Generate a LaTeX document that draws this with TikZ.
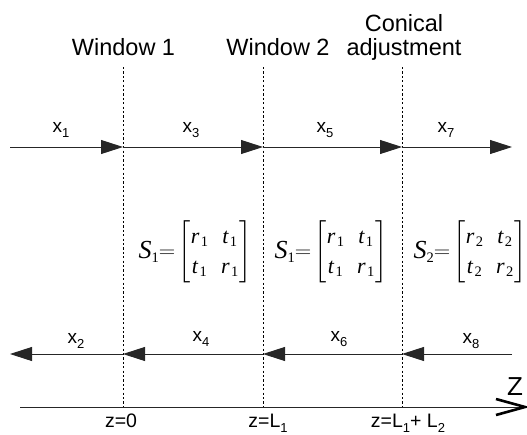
\documentclass[tikz,border=0pt]{standalone}
\usepackage{amsmath}
\usepackage{graphicx}
\usepackage{fontspec}
\setmainfont{Liberation Sans}
\newfontfamily\mserif{Liberation Serif}
\usetikzlibrary{arrows.meta}
% lowered subscript in the label font
\newcommand\lowsub[1]{\raisebox{-5pt}{\fontsize{13}{13}\selectfont #1}}
% italic serif symbol with upright serif index
\newcommand\msym[2]{\text{\mserif\itshape #1}\hspace{1.5pt}\raisebox{-3.5pt}{\fontsize{14.5}{14.5}\mserif #2}}
\newcommand\smatrix[3]{%
  \raisebox{-1pt}{\fontsize{26}{26}\mserif\itshape S}\raisebox{-5pt}{\fontsize{14.5}{14.5}\mserif #1}\scalebox{1.1}[1.0]{$=$}%
  \left[\setlength\arraycolsep{6.5pt}\begin{array}{@{\hspace{0pt}}cc@{\hspace{1pt}}}
    \rule{0pt}{20pt}\msym{#2}{#1} & \msym{#3}{#1}\\[6pt]
    \msym{#3}{#1} & \msym{#2}{#1}
  \end{array}\right]}
\tikzset{
  wave/.style={draw=black!85, line width=0.9pt, -{Triangle[length=22pt,width=14pt]}},
  plain/.style={draw=black!85, line width=0.9pt},
  iface/.style={draw=black, line width=0.7pt, dash pattern=on 2.2pt off 2.2pt},
  title/.style={font=\fontsize{23.5}{26}\selectfont, inner sep=0pt, anchor=base},
  amp/.style={font=\fontsize{19}{20}\selectfont, inner sep=0pt, anchor=base},
  zlabel/.style={font=\fontsize{19.5}{20}\selectfont, inner sep=0pt, anchor=base},
  smat/.style={font=\fontsize{22}{24}\selectfont, inner sep=0pt}
}
\begin{document}
\begin{tikzpicture}[x=1pt,y=-1pt]
\useasboundingbox (0,0) rectangle (527,434);

% interfaces
\coordinate (w1t) at (123,67);  \coordinate (w1b) at (123,407);
\coordinate (w2t) at (263,67);  \coordinate (w2b) at (263,407);
\coordinate (cat) at (402,67);  \coordinate (cab) at (402,407);
\draw[iface] (w1t) -- (w1b);
\draw[iface] (w2t) -- (w2b);
\draw[iface] (cat) -- (cab);

% titles
\node[title] (t1) at (123.5,55) {Window 1};
\node[title] (t2) at (278,55) {Window 2};
\node[title] (t3a) at (404,31) {Conical};
\node[title] (t3b) at (404,55) {adjustment};

% forward waves
\coordinate (f0) at (10,147);
\coordinate (f1) at (123,147);
\coordinate (f2) at (263,147);
\coordinate (f3) at (402,147);
\coordinate (f4) at (512,147);
\draw[wave] (f0) -- (f1);
\draw[wave] (f1) -- (f2);
\draw[wave] (f2) -- (f3);
\draw[wave] (f3) -- (f4);
\node[amp] (x1) at (61,132) {x\lowsub{1}};
\node[amp] (x3) at (191,132) {x\lowsub{3}};
\node[amp] (x5) at (325,132) {x\lowsub{5}};
\node[amp] (x7) at (446,132) {x\lowsub{7}};

% backward waves
\coordinate (b0) at (512,354);
\coordinate (b1) at (402,354);
\coordinate (b2) at (263,354);
\coordinate (b3) at (123,354);
\coordinate (b4) at (10,354);
\draw[wave] (b0) -- (b1);
\draw[wave] (b1) -- (b2);
\draw[wave] (b2) -- (b3);
\draw[wave] (b3) -- (b4);
\node[amp] (x2) at (76,343) {x\lowsub{2}};
\node[amp] (x4) at (201,341) {x\lowsub{4}};
\node[amp] (x6) at (339,341) {x\lowsub{6}};
\node[amp] (x8) at (471,343) {x\lowsub{8}};

% scattering matrices
\node[smat] (s1) at (195,252) {$\smatrix{1}{r}{t}$};
\node[smat] (s2) at (331,252) {$\smatrix{1}{r}{t}$};
\node[smat] (s3) at (470,252) {$\smatrix{2}{r}{t}$};

% z axis
\coordinate (z0) at (20,407);
\coordinate (z1) at (525,407);
\draw[plain] (z0) -- (z1);
\draw[line width=2.6pt, line join=miter] (496,399) -- (z1) -- (496,415);
\node[font=\fontsize{26}{28}\selectfont, inner sep=0pt, anchor=base] (zl) at (515,395) {Z};

% positions
\node[zlabel] (p0) at (121,427) {z=0};
\node[zlabel] (p1) at (268,427) {z=L\lowsub{1}};
\node[zlabel] (p2) at (408,427) {z=L\lowsub{1}+ L\lowsub{2}};
\end{tikzpicture}
\end{document}
